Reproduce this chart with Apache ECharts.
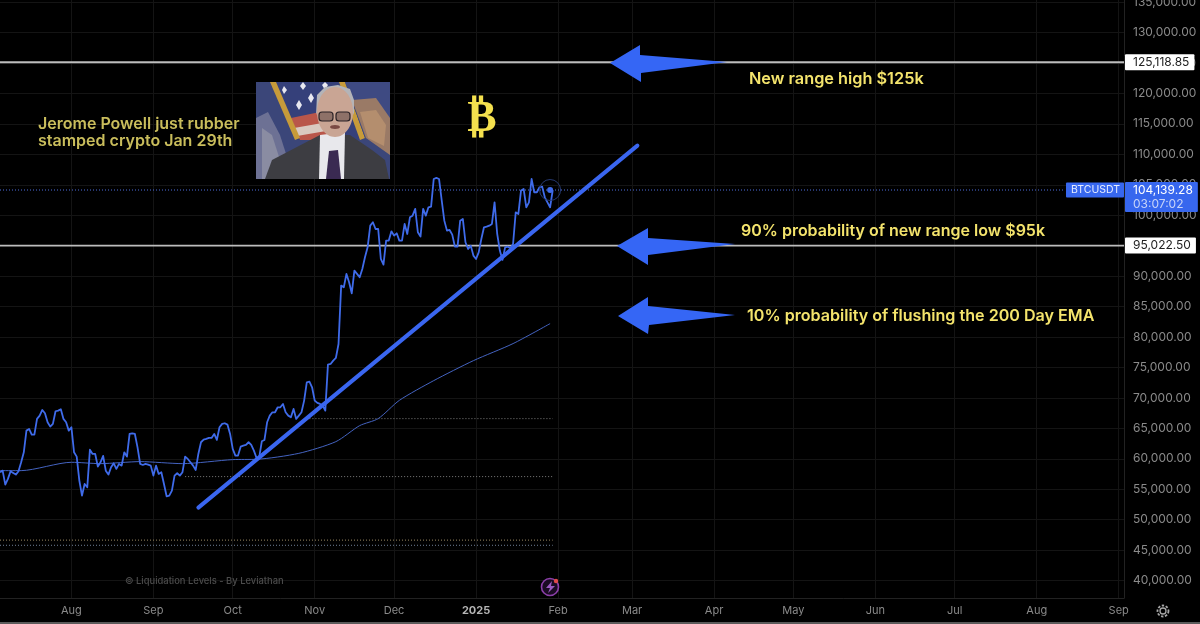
<!DOCTYPE html>
<html><head><meta charset="utf-8">
<style>html,body{margin:0;padding:0;background:#000}#c{width:1200px;height:624px}</style>
<script src="https://cdn.jsdelivr.net/npm/echarts@6/dist/echarts.min.js"></script>
</head><body><div id="c"></div>
<script>
const firstDay = '2024-07-05';
const lastDay = '2025-09-03';
const yTicks = [40000,45000,50000,55000,60000,65000,70000,75000,80000,85000,90000,95000,100000,105000,110000,115000,120000,125000,130000,135000];
const priceValues = [
57790,58060,55770,56700,57950,57680,57410,57950,59430,61070,64630,64900,63970,63970,66550,67090,68020,67480,66000,65290,65730,67810,67920,68130,66550,66000,64630,65180,61070,60360,56420,53960,55870,55330,61510,60800,60800,58720,59430,60470,58060,57410,58610,59270,58340,59160,58880,61070,60360,64080,64190,64080,61890,59160,58990,59160,59050,58880,57240,58880,57520,57790,55870,53850,53960,54780,57240,57630,57240,57800,60360,59980,59430,58880,58170,60800,62720,63150,63260,63430,63430,64080,63100,65180,65730,65840,65620,64080,61620,60530,60530,62000,62170,62280,62720,62280,61350,60140,60250,62880,63100,66000,67090,67640,67640,68460,68460,69010,67640,67090,66820,68190,66550,67090,
67640,69560,72570,72680,71750,69560,69180,69010,68740,67920,75470,75580,76130,76560,78860,88440,88170,90360,88990,87180,90900,90360,89810,91180,93090,94730,98290,98840,97740,97740,92820,91890,95830,95830,97360,96650,97030,95830,95830,98570,96920,99660,99930,101030,97200,96490,101030,99930,101300,101410,105950,106120,105950,102500,99110,97470,97580,96810,94840,94840,99110,99390,95560,94460,95010,93370,92820,93910,96100,98020,98130,98290,98570,102120,96920,94190,92660,94730,94840,94570,95280,100480,100210,104040,104310,101300,102120,105950,103770,103770,104590,104700,102940,102120,101300,104139.28];
const emaDates = ['2024-07-05','2024-07-13','2024-08-01','2024-08-12','2024-08-27','2024-09-12','2024-10-01','2024-10-10','2024-10-26','2024-11-09','2024-11-18','2024-11-25','2024-12-03','2024-12-16','2024-12-31','2025-01-15','2025-01-29'];
const emaValues = [58060,58060,59430,59210,59540,59210,59870,59920,60900,62820,65450,66600,69600,72840,76120,78920,82200];
const trendDates = ['2024-09-18','2025-03-03'];
const trendValues = [51990,111430];
const rangeHigh = 125118.85;
const rangeLow = 95022.50;
const lastPrice = 104139.28;
const lastPriceDate = '2025-01-29';
const countdown = '03:07:02';
const dottedLevels = [
 {from:'2024-10-30',to:'2025-01-30',value:66600,color:'#7c7c7c'},
 {from:'2024-09-13',to:'2025-01-30',value:57080,color:'#7c7c7c'},
 {from:'2024-07-05',to:'2025-01-30',value:46650,color:'#9c8a62'},
 {from:'2024-07-05',to:'2025-01-30',value:45800,color:'#6f7f96'}
];
const fmt = v => v.toLocaleString('en-US',{minimumFractionDigits:2,maximumFractionDigits:2});
const categories = [];
for (let d = new Date(firstDay+'T00:00:00Z'), e = new Date(lastDay+'T00:00:00Z'); d <= e; d = new Date(d.getTime()+864e5)) categories.push(d.toISOString().slice(0,10));
const isMonthStart = (i,v) => v.slice(8)==='01';
const monthNames = ['Jan','Feb','Mar','Apr','May','Jun','Jul','Aug','Sep','Oct','Nov','Dec'];
const FONT = 'Inter, "Open Sans", sans-serif';
const BLUE='#3f6bea';
const LABELBLUE='#3767ee';

const text = (x,y,t,size,color,weight) => ({type:'text',x,y,z:50,silent:true,style:{text:t,font:`${weight||600} ${size}px ${FONT}`,fill:color,textVerticalAlign:'middle'}});
const poly = (pts,fill,z) => ({type:'polygon',z:z||40,silent:true,shape:{points:pts},style:{fill}});
const arrow = pts => poly(pts,'#3566f5',30);

const portrait = [
 {type:'rect',z:40,silent:true,shape:{x:256,y:82,width:134,height:97},style:{fill:'#3b4679'}},
 poly([[256,118],[268,112],[280,135],[288,160],[280,179],[256,179]],'#6d7194'),
 poly([[262,128],[272,135],[280,160],[272,179],[262,179]],'#8a8ca2'),
 poly([[272,82],[338,82],[362,140],[296,140]],'#35407a'),
 poly([[291,118],[320,112],[335,140],[300,140]],'#b9564a'),
 poly([[294,128],[328,122],[332,130],[297,136]],'#d9c9c0'),
 poly([[270,82],[276,82],[300,138],[295,140]],'#c79b3a'),
 poly([[339,82],[345,82],[365,138],[360,140]],'#c79b3a'),
 poly([[345,82],[390,82],[390,150],[365,138]],'#3e4a82'),
 poly([[352,100],[376,98],[390,118],[390,155],[366,138]],'#9a7a66'),
 poly([[360,112],[376,110],[386,125],[384,146],[368,138]],'#b48e6e'),
 poly([[282,90],[284,86],[287,90],[284,94]],'#e8e8f0'),
 poly([[300,86],[303,82],[306,86],[303,90]],'#e8e8f0'),
 poly([[296,105],[299,100],[302,105],[299,110]],'#e8e8f0'),
 poly([[308,98],[311,93],[314,98],[311,103]],'#e8e8f0'),
 poly([[322,85],[325,82],[328,85],[325,90]],'#e8e8f0'),
 poly([[265,179],[272,160],[295,148],[320,135],[350,135],[372,150],[385,160],[389,179]],'#3d3d42'),
 poly([[320,135],[345,132],[344,179],[319,179]],'#e8e8ec'),
 poly([[329,151],[338,150],[341,179],[326,179]],'#3a2a52'),
 {type:'ellipse',z:41,silent:true,shape:{cx:335,cy:112,rx:18,ry:25},style:{fill:'#c9a594'}},
 poly([[316,115],[317,95],[325,87],[338,85],[350,89],[354,100],[354,115],[350,106],[338,103],[324,103],[319,108]],'#b4b4b8'),
 {type:'rect',z:42,silent:true,shape:{x:319,y:112,width:14,height:9,r:3},style:{fill:'rgba(70,50,50,0.45)',stroke:'#2a2226',lineWidth:1.2}},
 {type:'rect',z:42,silent:true,shape:{x:336,y:112,width:14,height:9,r:3},style:{fill:'rgba(70,50,50,0.45)',stroke:'#2a2226',lineWidth:1.2}},
 {type:'ellipse',z:42,silent:true,shape:{cx:335,cy:127,rx:5,ry:2},style:{fill:'#7a4a44'}}
];

const graphic = [
 arrow([[610,63],[640,45],[640,55],[727,62],[641,73],[641,82]]),
 arrow([[617,246],[648,228],[648,238],[735,244],[648,255],[648,265]]),
 arrow([[618,316],[648,297],[648,306],[735,315],[649,325],[648,334]]),
 text(749,79,'New range high $125k',16.3,'#f4e46c'),
 text(741,231,'90% probability of new range low $95k',16,'#f4e46c'),
 text(747,316,'10% probability of flushing the 200 Day EMA',16.1,'#f4e46c'),
 text(38,124,'Jerome Powell just rubber',16,'#c9bd5c'),
 text(38,141,'stamped crypto Jan 29th',16,'#c9bd5c'),
 {type:'text',x:482,y:120,z:50,silent:true,style:{text:'₿',font:`700 44px "DejaVu Sans"`,fill:'#f4e04e',align:'center',verticalAlign:'middle'}},
 text(125,581,'© Liquidation Levels - By Leviathan',9.4,'#4c4c4c',500),
 {type:'circle',z:50,silent:true,shape:{cx:550,cy:587,r:8.5},style:{fill:'#1a0b22',stroke:'#8b3fa8',lineWidth:1.6}},
 poly([[552,581],[546,588],[550,588],[548,593],[555,586],[551,586]],'#9a5ac0',51),
 {type:'circle',z:52,silent:true,shape:{cx:556,cy:581,r:2.2},style:{fill:'#e04a4a'}},
 {type:'circle',z:50,silent:true,shape:{cx:1163,cy:611,r:3},style:{fill:'none',stroke:'#a8a8a8',lineWidth:1.3}},
 {type:'circle',z:50,silent:true,shape:{cx:1163,cy:611,r:5.5},style:{fill:'none',stroke:'#a8a8a8',lineWidth:1.8,lineDash:[2.4,1.6]}},
 {type:'rect',z:60,silent:true,shape:{x:0,y:622,width:1200,height:2},style:{fill:'#5a5a5a'}},
 ...portrait
];

const series = [];
dottedLevels.forEach(l=>series.push({type:'line',silent:true,symbol:'none',z:2,animation:false,
  data:[[l.from,l.value],[l.to,l.value]],lineStyle:{color:l.color,width:1,type:[1,2]}}));
series.push({type:'line',silent:true,symbol:'none',z:2,animation:false,
  data:[[firstDay,lastPrice],['2025-08-11',lastPrice]],lineStyle:{color:'#4f6fe0',width:1,type:[1,2]}});
[rangeHigh,rangeLow].forEach(v=>series.push({type:'line',silent:true,symbol:'none',z:3,animation:false,
  data:[[firstDay,v],[lastDay,v]],lineStyle:{color:'#bdbdbd',width:1.8},
  endLabel:{show:true,distance:1,formatter:()=>fmt(v),backgroundColor:'#fff',color:'#222',fontFamily:FONT,fontSize:12,padding:[2,5,2,8],borderRadius:1}}));
series.push({type:'line',silent:true,symbol:'none',z:4,animation:false,smooth:0.25,
  data:emaDates.map((d,i)=>[d,emaValues[i]]),lineStyle:{color:'#4463c0',width:1}});
series.push({type:'line',silent:true,symbol:'none',z:5,animation:false,
  data:priceValues.map((v,i)=>[categories[i],v]),lineStyle:{color:BLUE,width:1.8,join:'round'}});
series.push({type:'line',silent:true,symbol:'none',z:6,animation:false,
  data:trendDates.map((d,i)=>[d,trendValues[i]]),lineStyle:{color:'#3a66f0',width:4,cap:'round'}});
series.push({type:'scatter',silent:true,z:7,animation:false,symbolSize:6,
  data:[[lastPriceDate,lastPrice]],itemStyle:{color:BLUE,opacity:1}});
series.push({type:'scatter',silent:true,z:7,animation:false,symbolSize:21,
  data:[[lastPriceDate,lastPrice]],itemStyle:{color:'rgba(0,0,0,0)',borderColor:'#26396f',borderWidth:1,opacity:1}});
series.push({type:'scatter',silent:true,z:20,animation:false,symbolSize:0,itemStyle:{opacity:1},
  data:[[lastDay,lastPrice]],
  label:{show:true,position:'right',distance:1,offset:[0,7],formatter:()=>`{p|${fmt(lastPrice)}}\n{t|${countdown}}`,backgroundColor:LABELBLUE,padding:[1,5,1,8],borderRadius:1,
    rich:{p:{color:'#fff',fontFamily:FONT,fontSize:12,lineHeight:14},t:{color:'#c8d4f8',fontFamily:FONT,fontSize:12,lineHeight:14}}}});
series.push({type:'scatter',silent:true,z:20,animation:false,symbolSize:0,itemStyle:{opacity:1},
  data:[[lastDay,lastPrice]],
  label:{show:true,position:'left',distance:0,formatter:()=>'BTCUSDT',backgroundColor:LABELBLUE,color:'#e6ecff',fontFamily:FONT,fontSize:10.5,padding:[2,4,2,5],borderRadius:1}});

const chart = echarts.init(document.getElementById('c'),null,{renderer:'canvas'});
chart.setOption({
 animation:false,backgroundColor:'#000',
 grid:{left:0,right:76,top:0,bottom:26,containLabel:false,outerBoundsMode:'none'},
 xAxis:{type:'category',boundaryGap:false,data:categories,
  axisLine:{show:true,lineStyle:{color:'#222'}},axisTick:{show:false},
  splitLine:{show:true,interval:isMonthStart,lineStyle:{color:'#141414',width:1}},
  axisLabel:{interval:isMonthStart,margin:7,hideOverlap:false,color:'#8a8a8a',fontFamily:FONT,fontSize:11,
   formatter:v=>{const m=+v.slice(5,7);return m===1?`{y|${v.slice(0,4)}}`:monthNames[m-1]},
   rich:{y:{color:'#b4b4b4',fontWeight:700,fontFamily:FONT,fontSize:11}}}},
 yAxis:{type:'value',position:'right',min:37145,max:135340,
  axisLine:{show:true,lineStyle:{color:'#222'}},
  axisTick:{show:false,customValues:yTicks},
  splitLine:{show:true,lineStyle:{color:'#141414',width:1}},
  axisLabel:{customValues:yTicks,margin:9,color:'#8a8a8a',fontFamily:FONT,fontSize:12,formatter:v=>fmt(v)}},
 series,graphic
});
</script></body></html>
